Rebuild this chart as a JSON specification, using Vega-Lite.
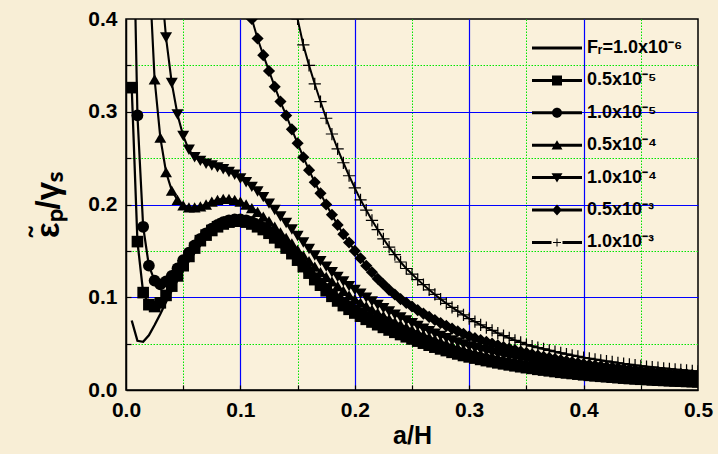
{
  "$schema": "https://vega.github.io/schema/vega-lite/v6.json",
  "width": 572,
  "height": 371,
  "autosize": {"type": "none"},
  "padding": {"left": 126, "top": 19, "right": 20, "bottom": 64},
  "background": "#f8eed6",
  "config": {
    "font": "Liberation Sans",
    "view": {"fill": "#faf1db", "stroke": "#000000", "strokeWidth": 1.5}
  },
  "data": {
    "values": [
      {"s":"a","x":0.005,"y":0.075},{"s":"a","x":0.01,"y":0.053},{"s":"a","x":0.015,"y":0.052},{"s":"a","x":0.02,"y":0.059},{"s":"a","x":0.025,"y":0.07},{"s":"a","x":0.03,"y":0.082},{"s":"a","x":0.035,"y":0.095},{"s":"a","x":0.04,"y":0.107},{"s":"a","x":0.045,"y":0.118},{"s":"a","x":0.05,"y":0.129},
      {"s":"a","x":0.055,"y":0.139},{"s":"a","x":0.06,"y":0.148},{"s":"a","x":0.065,"y":0.156},{"s":"a","x":0.07,"y":0.163},{"s":"a","x":0.075,"y":0.169},{"s":"a","x":0.08,"y":0.174},{"s":"a","x":0.085,"y":0.177},{"s":"a","x":0.09,"y":0.179},{"s":"a","x":0.095,"y":0.18},{"s":"a","x":0.1,"y":0.18},
      {"s":"a","x":0.105,"y":0.179},{"s":"a","x":0.11,"y":0.177},{"s":"a","x":0.115,"y":0.174},{"s":"a","x":0.12,"y":0.171},{"s":"a","x":0.125,"y":0.167},{"s":"a","x":0.13,"y":0.162},{"s":"a","x":0.135,"y":0.157},{"s":"a","x":0.14,"y":0.151},{"s":"a","x":0.145,"y":0.145},{"s":"a","x":0.15,"y":0.138},
      {"s":"a","x":0.155,"y":0.131},{"s":"a","x":0.16,"y":0.124},{"s":"a","x":0.165,"y":0.117},{"s":"a","x":0.17,"y":0.111},{"s":"a","x":0.175,"y":0.105},{"s":"a","x":0.18,"y":0.099},{"s":"a","x":0.185,"y":0.094},{"s":"a","x":0.19,"y":0.089},{"s":"a","x":0.195,"y":0.085},{"s":"a","x":0.2,"y":0.081},
      {"s":"a","x":0.205,"y":0.0776},{"s":"a","x":0.21,"y":0.0743},{"s":"a","x":0.215,"y":0.0714},{"s":"a","x":0.22,"y":0.0686},{"s":"a","x":0.225,"y":0.0658},{"s":"a","x":0.23,"y":0.063},{"s":"a","x":0.235,"y":0.0606},{"s":"a","x":0.24,"y":0.0583},{"s":"a","x":0.245,"y":0.0559},{"s":"a","x":0.25,"y":0.0536},
      {"s":"a","x":0.255,"y":0.0513},{"s":"a","x":0.26,"y":0.0492},{"s":"a","x":0.265,"y":0.0471},{"s":"a","x":0.27,"y":0.045},{"s":"a","x":0.275,"y":0.0431},{"s":"a","x":0.28,"y":0.0414},{"s":"a","x":0.285,"y":0.0396},{"s":"a","x":0.29,"y":0.0379},{"s":"a","x":0.295,"y":0.0363},{"s":"a","x":0.3,"y":0.0348},
      {"s":"a","x":0.305,"y":0.0335},{"s":"a","x":0.31,"y":0.0321},{"s":"a","x":0.315,"y":0.0309},{"s":"a","x":0.32,"y":0.0297},{"s":"a","x":0.325,"y":0.0286},{"s":"a","x":0.33,"y":0.0274},{"s":"a","x":0.335,"y":0.0264},{"s":"a","x":0.34,"y":0.0254},{"s":"a","x":0.345,"y":0.0244},{"s":"a","x":0.35,"y":0.0235},
      {"s":"a","x":0.355,"y":0.0227},{"s":"a","x":0.36,"y":0.0217},{"s":"a","x":0.365,"y":0.021},{"s":"a","x":0.37,"y":0.0201},{"s":"a","x":0.375,"y":0.0194},{"s":"a","x":0.38,"y":0.0186},{"s":"a","x":0.385,"y":0.018},{"s":"a","x":0.39,"y":0.0173},{"s":"a","x":0.395,"y":0.0166},{"s":"a","x":0.4,"y":0.016},
      {"s":"a","x":0.405,"y":0.0154},{"s":"a","x":0.41,"y":0.0149},{"s":"a","x":0.415,"y":0.0144},{"s":"a","x":0.42,"y":0.0139},{"s":"a","x":0.425,"y":0.0134},{"s":"a","x":0.43,"y":0.013},{"s":"a","x":0.435,"y":0.0125},{"s":"a","x":0.44,"y":0.0121},{"s":"a","x":0.445,"y":0.0117},{"s":"a","x":0.45,"y":0.0113},
      {"s":"a","x":0.455,"y":0.011},{"s":"a","x":0.46,"y":0.0106},{"s":"a","x":0.465,"y":0.0103},{"s":"a","x":0.47,"y":0.0101},{"s":"a","x":0.475,"y":0.0098},{"s":"a","x":0.48,"y":0.0095},{"s":"a","x":0.485,"y":0.0092},{"s":"a","x":0.49,"y":0.0089},{"s":"a","x":0.495,"y":0.0087},{"s":"a","x":0.5,"y":0.0085},

      {"s":"b","x":0.005,"y":0.326},{"s":"b","x":0.01,"y":0.16},{"s":"b","x":0.015,"y":0.105},{"s":"b","x":0.02,"y":0.092},{"s":"b","x":0.025,"y":0.09},{"s":"b","x":0.03,"y":0.094},{"s":"b","x":0.035,"y":0.102},{"s":"b","x":0.04,"y":0.112},{"s":"b","x":0.045,"y":0.123},{"s":"b","x":0.05,"y":0.134},
      {"s":"b","x":0.055,"y":0.144},{"s":"b","x":0.06,"y":0.153},{"s":"b","x":0.065,"y":0.161},{"s":"b","x":0.07,"y":0.167},{"s":"b","x":0.075,"y":0.172},{"s":"b","x":0.08,"y":0.176},{"s":"b","x":0.085,"y":0.179},{"s":"b","x":0.09,"y":0.181},{"s":"b","x":0.095,"y":0.182},{"s":"b","x":0.1,"y":0.182},
      {"s":"b","x":0.105,"y":0.181},{"s":"b","x":0.11,"y":0.179},{"s":"b","x":0.115,"y":0.176},{"s":"b","x":0.12,"y":0.173},{"s":"b","x":0.125,"y":0.169},{"s":"b","x":0.13,"y":0.164},{"s":"b","x":0.135,"y":0.159},{"s":"b","x":0.14,"y":0.153},{"s":"b","x":0.145,"y":0.147},{"s":"b","x":0.15,"y":0.14},
      {"s":"b","x":0.155,"y":0.133},{"s":"b","x":0.16,"y":0.126},{"s":"b","x":0.165,"y":0.119},{"s":"b","x":0.17,"y":0.113},{"s":"b","x":0.175,"y":0.107},{"s":"b","x":0.18,"y":0.101},{"s":"b","x":0.185,"y":0.096},{"s":"b","x":0.19,"y":0.091},{"s":"b","x":0.195,"y":0.087},{"s":"b","x":0.2,"y":0.083},
      {"s":"b","x":0.205,"y":0.0796},{"s":"b","x":0.21,"y":0.0762},{"s":"b","x":0.215,"y":0.0733},{"s":"b","x":0.22,"y":0.0704},{"s":"b","x":0.225,"y":0.0675},{"s":"b","x":0.23,"y":0.0647},{"s":"b","x":0.235,"y":0.0622},{"s":"b","x":0.24,"y":0.0598},{"s":"b","x":0.245,"y":0.0574},{"s":"b","x":0.25,"y":0.055},
      {"s":"b","x":0.255,"y":0.0527},{"s":"b","x":0.26,"y":0.0505},{"s":"b","x":0.265,"y":0.0483},{"s":"b","x":0.27,"y":0.0462},{"s":"b","x":0.275,"y":0.0443},{"s":"b","x":0.28,"y":0.0425},{"s":"b","x":0.285,"y":0.0406},{"s":"b","x":0.29,"y":0.0389},{"s":"b","x":0.295,"y":0.0372},{"s":"b","x":0.3,"y":0.0357},
      {"s":"b","x":0.305,"y":0.0344},{"s":"b","x":0.31,"y":0.033},{"s":"b","x":0.315,"y":0.0317},{"s":"b","x":0.32,"y":0.0305},{"s":"b","x":0.325,"y":0.0293},{"s":"b","x":0.33,"y":0.0282},{"s":"b","x":0.335,"y":0.0271},{"s":"b","x":0.34,"y":0.0261},{"s":"b","x":0.345,"y":0.0251},{"s":"b","x":0.35,"y":0.0241},
      {"s":"b","x":0.355,"y":0.0233},{"s":"b","x":0.36,"y":0.0223},{"s":"b","x":0.365,"y":0.0215},{"s":"b","x":0.37,"y":0.0207},{"s":"b","x":0.375,"y":0.0199},{"s":"b","x":0.38,"y":0.0191},{"s":"b","x":0.385,"y":0.0184},{"s":"b","x":0.39,"y":0.0178},{"s":"b","x":0.395,"y":0.0171},{"s":"b","x":0.4,"y":0.0164},
      {"s":"b","x":0.405,"y":0.0158},{"s":"b","x":0.41,"y":0.0153},{"s":"b","x":0.415,"y":0.0148},{"s":"b","x":0.42,"y":0.0143},{"s":"b","x":0.425,"y":0.0138},{"s":"b","x":0.43,"y":0.0133},{"s":"b","x":0.435,"y":0.0128},{"s":"b","x":0.44,"y":0.0124},{"s":"b","x":0.445,"y":0.012},{"s":"b","x":0.45,"y":0.0116},
      {"s":"b","x":0.455,"y":0.0113},{"s":"b","x":0.46,"y":0.0109},{"s":"b","x":0.465,"y":0.0106},{"s":"b","x":0.47,"y":0.0103},{"s":"b","x":0.475,"y":0.01},{"s":"b","x":0.48,"y":0.0097},{"s":"b","x":0.485,"y":0.0095},{"s":"b","x":0.49,"y":0.0092},{"s":"b","x":0.495,"y":0.009},{"s":"b","x":0.5,"y":0.0087},

      {"s":"c","x":0.005,"y":0.6},{"s":"c","x":0.01,"y":0.296},{"s":"c","x":0.015,"y":0.176},{"s":"c","x":0.02,"y":0.134},{"s":"c","x":0.025,"y":0.118},{"s":"c","x":0.03,"y":0.114},{"s":"c","x":0.035,"y":0.117},{"s":"c","x":0.04,"y":0.123},{"s":"c","x":0.045,"y":0.131},{"s":"c","x":0.05,"y":0.14},
      {"s":"c","x":0.055,"y":0.148},{"s":"c","x":0.06,"y":0.156},{"s":"c","x":0.065,"y":0.163},{"s":"c","x":0.07,"y":0.169},{"s":"c","x":0.075,"y":0.174},{"s":"c","x":0.08,"y":0.178},{"s":"c","x":0.085,"y":0.181},{"s":"c","x":0.09,"y":0.183},{"s":"c","x":0.095,"y":0.184},{"s":"c","x":0.1,"y":0.184},
      {"s":"c","x":0.105,"y":0.183},{"s":"c","x":0.11,"y":0.181},{"s":"c","x":0.115,"y":0.178},{"s":"c","x":0.12,"y":0.175},{"s":"c","x":0.125,"y":0.171},{"s":"c","x":0.13,"y":0.166},{"s":"c","x":0.135,"y":0.161},{"s":"c","x":0.14,"y":0.155},{"s":"c","x":0.145,"y":0.149},{"s":"c","x":0.15,"y":0.142},
      {"s":"c","x":0.155,"y":0.135},{"s":"c","x":0.16,"y":0.128},{"s":"c","x":0.165,"y":0.121},{"s":"c","x":0.17,"y":0.115},{"s":"c","x":0.175,"y":0.109},{"s":"c","x":0.18,"y":0.103},{"s":"c","x":0.185,"y":0.098},{"s":"c","x":0.19,"y":0.094},{"s":"c","x":0.195,"y":0.09},{"s":"c","x":0.2,"y":0.086},
      {"s":"c","x":0.205,"y":0.0825},{"s":"c","x":0.21,"y":0.079},{"s":"c","x":0.215,"y":0.076},{"s":"c","x":0.22,"y":0.073},{"s":"c","x":0.225,"y":0.07},{"s":"c","x":0.23,"y":0.067},{"s":"c","x":0.235,"y":0.0645},{"s":"c","x":0.24,"y":0.062},{"s":"c","x":0.245,"y":0.0595},{"s":"c","x":0.25,"y":0.057},
      {"s":"c","x":0.255,"y":0.0546},{"s":"c","x":0.26,"y":0.0523},{"s":"c","x":0.265,"y":0.0501},{"s":"c","x":0.27,"y":0.0479},{"s":"c","x":0.275,"y":0.0459},{"s":"c","x":0.28,"y":0.044},{"s":"c","x":0.285,"y":0.0421},{"s":"c","x":0.29,"y":0.0403},{"s":"c","x":0.295,"y":0.0386},{"s":"c","x":0.3,"y":0.037},
      {"s":"c","x":0.305,"y":0.0356},{"s":"c","x":0.31,"y":0.0342},{"s":"c","x":0.315,"y":0.0329},{"s":"c","x":0.32,"y":0.0316},{"s":"c","x":0.325,"y":0.0304},{"s":"c","x":0.33,"y":0.0292},{"s":"c","x":0.335,"y":0.0281},{"s":"c","x":0.34,"y":0.027},{"s":"c","x":0.345,"y":0.026},{"s":"c","x":0.35,"y":0.025},
      {"s":"c","x":0.355,"y":0.0241},{"s":"c","x":0.36,"y":0.0231},{"s":"c","x":0.365,"y":0.0223},{"s":"c","x":0.37,"y":0.0214},{"s":"c","x":0.375,"y":0.0206},{"s":"c","x":0.38,"y":0.0198},{"s":"c","x":0.385,"y":0.0191},{"s":"c","x":0.39,"y":0.0184},{"s":"c","x":0.395,"y":0.0177},{"s":"c","x":0.4,"y":0.017},
      {"s":"c","x":0.405,"y":0.0164},{"s":"c","x":0.41,"y":0.0159},{"s":"c","x":0.415,"y":0.0153},{"s":"c","x":0.42,"y":0.0148},{"s":"c","x":0.425,"y":0.0143},{"s":"c","x":0.43,"y":0.0138},{"s":"c","x":0.435,"y":0.0133},{"s":"c","x":0.44,"y":0.0129},{"s":"c","x":0.445,"y":0.0124},{"s":"c","x":0.45,"y":0.012},
      {"s":"c","x":0.455,"y":0.0117},{"s":"c","x":0.46,"y":0.0113},{"s":"c","x":0.465,"y":0.011},{"s":"c","x":0.47,"y":0.0107},{"s":"c","x":0.475,"y":0.0104},{"s":"c","x":0.48,"y":0.0101},{"s":"c","x":0.485,"y":0.0098},{"s":"c","x":0.49,"y":0.0095},{"s":"c","x":0.495,"y":0.0093},{"s":"c","x":0.5,"y":0.009},

      {"s":"d","x":0.02,"y":0.46},{"s":"d","x":0.025,"y":0.335},{"s":"d","x":0.03,"y":0.272},{"s":"d","x":0.035,"y":0.235},{"s":"d","x":0.04,"y":0.215},{"s":"d","x":0.045,"y":0.205},{"s":"d","x":0.05,"y":0.199},
      {"s":"d","x":0.055,"y":0.197},{"s":"d","x":0.06,"y":0.197},{"s":"d","x":0.065,"y":0.198},{"s":"d","x":0.07,"y":0.2},{"s":"d","x":0.075,"y":0.203},{"s":"d","x":0.08,"y":0.205},{"s":"d","x":0.085,"y":0.206},{"s":"d","x":0.09,"y":0.206},{"s":"d","x":0.095,"y":0.205},{"s":"d","x":0.1,"y":0.203},
      {"s":"d","x":0.105,"y":0.2},{"s":"d","x":0.11,"y":0.196},{"s":"d","x":0.115,"y":0.192},{"s":"d","x":0.12,"y":0.187},{"s":"d","x":0.125,"y":0.182},{"s":"d","x":0.13,"y":0.176},{"s":"d","x":0.135,"y":0.17},{"s":"d","x":0.14,"y":0.164},{"s":"d","x":0.145,"y":0.158},{"s":"d","x":0.15,"y":0.151},
      {"s":"d","x":0.155,"y":0.145},{"s":"d","x":0.16,"y":0.139},{"s":"d","x":0.165,"y":0.133},{"s":"d","x":0.17,"y":0.127},{"s":"d","x":0.175,"y":0.122},{"s":"d","x":0.18,"y":0.117},{"s":"d","x":0.185,"y":0.112},{"s":"d","x":0.19,"y":0.107},{"s":"d","x":0.195,"y":0.102},{"s":"d","x":0.2,"y":0.098},
      {"s":"d","x":0.205,"y":0.0941},{"s":"d","x":0.21,"y":0.0903},{"s":"d","x":0.215,"y":0.0866},{"s":"d","x":0.22,"y":0.0831},{"s":"d","x":0.225,"y":0.0798},{"s":"d","x":0.23,"y":0.0766},{"s":"d","x":0.235,"y":0.0735},{"s":"d","x":0.24,"y":0.0705},{"s":"d","x":0.245,"y":0.0677},{"s":"d","x":0.25,"y":0.065},
      {"s":"d","x":0.255,"y":0.0622},{"s":"d","x":0.26,"y":0.0596},{"s":"d","x":0.265,"y":0.057},{"s":"d","x":0.27,"y":0.0546},{"s":"d","x":0.275,"y":0.0522},{"s":"d","x":0.28,"y":0.05},{"s":"d","x":0.285,"y":0.0479},{"s":"d","x":0.29,"y":0.0458},{"s":"d","x":0.295,"y":0.0439},{"s":"d","x":0.3,"y":0.042},
      {"s":"d","x":0.305,"y":0.0403},{"s":"d","x":0.31,"y":0.0387},{"s":"d","x":0.315,"y":0.0372},{"s":"d","x":0.32,"y":0.0357},{"s":"d","x":0.325,"y":0.0343},{"s":"d","x":0.33,"y":0.0329},{"s":"d","x":0.335,"y":0.0316},{"s":"d","x":0.34,"y":0.0304},{"s":"d","x":0.345,"y":0.0292},{"s":"d","x":0.35,"y":0.028},
      {"s":"d","x":0.355,"y":0.0269},{"s":"d","x":0.36,"y":0.0259},{"s":"d","x":0.365,"y":0.0249},{"s":"d","x":0.37,"y":0.024},{"s":"d","x":0.375,"y":0.0231},{"s":"d","x":0.38,"y":0.0222},{"s":"d","x":0.385,"y":0.0213},{"s":"d","x":0.39,"y":0.0205},{"s":"d","x":0.395,"y":0.0197},{"s":"d","x":0.4,"y":0.019},
      {"s":"d","x":0.405,"y":0.0184},{"s":"d","x":0.41,"y":0.0179},{"s":"d","x":0.415,"y":0.0173},{"s":"d","x":0.42,"y":0.0168},{"s":"d","x":0.425,"y":0.0163},{"s":"d","x":0.43,"y":0.0158},{"s":"d","x":0.435,"y":0.0154},{"s":"d","x":0.44,"y":0.0149},{"s":"d","x":0.445,"y":0.0145},{"s":"d","x":0.45,"y":0.014},
      {"s":"d","x":0.455,"y":0.0137},{"s":"d","x":0.46,"y":0.0133},{"s":"d","x":0.465,"y":0.013},{"s":"d","x":0.47,"y":0.0127},{"s":"d","x":0.475,"y":0.0124},{"s":"d","x":0.48,"y":0.0121},{"s":"d","x":0.485,"y":0.0118},{"s":"d","x":0.49,"y":0.0115},{"s":"d","x":0.495,"y":0.0113},{"s":"d","x":0.5,"y":0.011},

      {"s":"e","x":0.03,"y":0.45},{"s":"e","x":0.035,"y":0.38},{"s":"e","x":0.04,"y":0.331},{"s":"e","x":0.045,"y":0.297},{"s":"e","x":0.05,"y":0.274},
      {"s":"e","x":0.055,"y":0.259},{"s":"e","x":0.06,"y":0.251},{"s":"e","x":0.065,"y":0.247},{"s":"e","x":0.07,"y":0.244},{"s":"e","x":0.075,"y":0.242},{"s":"e","x":0.08,"y":0.24},{"s":"e","x":0.085,"y":0.238},{"s":"e","x":0.09,"y":0.235},{"s":"e","x":0.095,"y":0.232},{"s":"e","x":0.1,"y":0.228},
      {"s":"e","x":0.105,"y":0.224},{"s":"e","x":0.11,"y":0.219},{"s":"e","x":0.115,"y":0.214},{"s":"e","x":0.12,"y":0.208},{"s":"e","x":0.125,"y":0.201},{"s":"e","x":0.13,"y":0.194},{"s":"e","x":0.135,"y":0.187},{"s":"e","x":0.14,"y":0.18},{"s":"e","x":0.145,"y":0.173},{"s":"e","x":0.15,"y":0.166},
      {"s":"e","x":0.155,"y":0.159},{"s":"e","x":0.16,"y":0.152},{"s":"e","x":0.165,"y":0.145},{"s":"e","x":0.17,"y":0.139},{"s":"e","x":0.175,"y":0.133},{"s":"e","x":0.18,"y":0.127},{"s":"e","x":0.185,"y":0.122},{"s":"e","x":0.19,"y":0.117},{"s":"e","x":0.195,"y":0.112},{"s":"e","x":0.2,"y":0.108},
      {"s":"e","x":0.205,"y":0.1037},{"s":"e","x":0.21,"y":0.0996},{"s":"e","x":0.215,"y":0.0956},{"s":"e","x":0.22,"y":0.0918},{"s":"e","x":0.225,"y":0.0882},{"s":"e","x":0.23,"y":0.0847},{"s":"e","x":0.235,"y":0.0813},{"s":"e","x":0.24,"y":0.0781},{"s":"e","x":0.245,"y":0.075},{"s":"e","x":0.25,"y":0.072},
      {"s":"e","x":0.255,"y":0.069},{"s":"e","x":0.26,"y":0.0661},{"s":"e","x":0.265,"y":0.0634},{"s":"e","x":0.27,"y":0.0607},{"s":"e","x":0.275,"y":0.0582},{"s":"e","x":0.28,"y":0.0558},{"s":"e","x":0.285,"y":0.0534},{"s":"e","x":0.29,"y":0.0512},{"s":"e","x":0.295,"y":0.0491},{"s":"e","x":0.3,"y":0.047},
      {"s":"e","x":0.305,"y":0.0452},{"s":"e","x":0.31,"y":0.0435},{"s":"e","x":0.315,"y":0.0419},{"s":"e","x":0.32,"y":0.0403},{"s":"e","x":0.325,"y":0.0388},{"s":"e","x":0.33,"y":0.0373},{"s":"e","x":0.335,"y":0.0359},{"s":"e","x":0.34,"y":0.0346},{"s":"e","x":0.345,"y":0.0333},{"s":"e","x":0.35,"y":0.032},
      {"s":"e","x":0.355,"y":0.0308},{"s":"e","x":0.36,"y":0.0297},{"s":"e","x":0.365,"y":0.0286},{"s":"e","x":0.37,"y":0.0275},{"s":"e","x":0.375,"y":0.0265},{"s":"e","x":0.38,"y":0.0255},{"s":"e","x":0.385,"y":0.0246},{"s":"e","x":0.39,"y":0.0237},{"s":"e","x":0.395,"y":0.0228},{"s":"e","x":0.4,"y":0.022},
      {"s":"e","x":0.405,"y":0.0213},{"s":"e","x":0.41,"y":0.0206},{"s":"e","x":0.415,"y":0.02},{"s":"e","x":0.42,"y":0.0194},{"s":"e","x":0.425,"y":0.0188},{"s":"e","x":0.43,"y":0.0182},{"s":"e","x":0.435,"y":0.0176},{"s":"e","x":0.44,"y":0.0171},{"s":"e","x":0.445,"y":0.0165},{"s":"e","x":0.45,"y":0.016},
      {"s":"e","x":0.455,"y":0.0155},{"s":"e","x":0.46,"y":0.0151},{"s":"e","x":0.465,"y":0.0147},{"s":"e","x":0.47,"y":0.0143},{"s":"e","x":0.475,"y":0.0139},{"s":"e","x":0.48,"y":0.0135},{"s":"e","x":0.485,"y":0.0131},{"s":"e","x":0.49,"y":0.0127},{"s":"e","x":0.495,"y":0.0124},{"s":"e","x":0.5,"y":0.012},

      {"s":"f","x":0.105,"y":0.42},{"s":"f","x":0.11,"y":0.4},{"s":"f","x":0.115,"y":0.379},{"s":"f","x":0.12,"y":0.361},{"s":"f","x":0.125,"y":0.344},{"s":"f","x":0.13,"y":0.327},{"s":"f","x":0.135,"y":0.311},{"s":"f","x":0.14,"y":0.296},{"s":"f","x":0.145,"y":0.281},{"s":"f","x":0.15,"y":0.266},
      {"s":"f","x":0.155,"y":0.251},{"s":"f","x":0.16,"y":0.237},{"s":"f","x":0.165,"y":0.224},{"s":"f","x":0.17,"y":0.212},{"s":"f","x":0.175,"y":0.2},{"s":"f","x":0.18,"y":0.189},{"s":"f","x":0.185,"y":0.178},{"s":"f","x":0.19,"y":0.168},{"s":"f","x":0.195,"y":0.159},{"s":"f","x":0.2,"y":0.15},
      {"s":"f","x":0.205,"y":0.142},{"s":"f","x":0.21,"y":0.134},{"s":"f","x":0.215,"y":0.127},{"s":"f","x":0.22,"y":0.12},{"s":"f","x":0.225,"y":0.114},{"s":"f","x":0.23,"y":0.108},{"s":"f","x":0.235,"y":0.103},{"s":"f","x":0.24,"y":0.098},{"s":"f","x":0.245,"y":0.094},{"s":"f","x":0.25,"y":0.09},
      {"s":"f","x":0.255,"y":0.0861},{"s":"f","x":0.26,"y":0.0824},{"s":"f","x":0.265,"y":0.0789},{"s":"f","x":0.27,"y":0.0755},{"s":"f","x":0.275,"y":0.0723},{"s":"f","x":0.28,"y":0.0692},{"s":"f","x":0.285,"y":0.0662},{"s":"f","x":0.29,"y":0.0634},{"s":"f","x":0.295,"y":0.0606},{"s":"f","x":0.3,"y":0.058},
      {"s":"f","x":0.305,"y":0.0559},{"s":"f","x":0.31,"y":0.0539},{"s":"f","x":0.315,"y":0.0519},{"s":"f","x":0.32,"y":0.05},{"s":"f","x":0.325,"y":0.0482},{"s":"f","x":0.33,"y":0.0464},{"s":"f","x":0.335,"y":0.0447},{"s":"f","x":0.34,"y":0.0431},{"s":"f","x":0.345,"y":0.0415},{"s":"f","x":0.35,"y":0.04},
      {"s":"f","x":0.355,"y":0.0386},{"s":"f","x":0.36,"y":0.0372},{"s":"f","x":0.365,"y":0.0359},{"s":"f","x":0.37,"y":0.0347},{"s":"f","x":0.375,"y":0.0335},{"s":"f","x":0.38,"y":0.0323},{"s":"f","x":0.385,"y":0.0312},{"s":"f","x":0.39,"y":0.0301},{"s":"f","x":0.395,"y":0.029},{"s":"f","x":0.4,"y":0.028},
      {"s":"f","x":0.405,"y":0.0272},{"s":"f","x":0.41,"y":0.0264},{"s":"f","x":0.415,"y":0.0257},{"s":"f","x":0.42,"y":0.0249},{"s":"f","x":0.425,"y":0.0242},{"s":"f","x":0.43,"y":0.0236},{"s":"f","x":0.435,"y":0.0229},{"s":"f","x":0.44,"y":0.0223},{"s":"f","x":0.445,"y":0.0216},{"s":"f","x":0.45,"y":0.021},
      {"s":"f","x":0.455,"y":0.0204},{"s":"f","x":0.46,"y":0.0199},{"s":"f","x":0.465,"y":0.0194},{"s":"f","x":0.47,"y":0.0188},{"s":"f","x":0.475,"y":0.0183},{"s":"f","x":0.48,"y":0.0178},{"s":"f","x":0.485,"y":0.0174},{"s":"f","x":0.49,"y":0.0169},{"s":"f","x":0.495,"y":0.0164},{"s":"f","x":0.5,"y":0.016},

      {"s":"g","x":0.145,"y":0.432},{"s":"g","x":0.15,"y":0.4},
      {"s":"g","x":0.155,"y":0.372},{"s":"g","x":0.16,"y":0.35},{"s":"g","x":0.165,"y":0.33},{"s":"g","x":0.17,"y":0.311},{"s":"g","x":0.175,"y":0.293},{"s":"g","x":0.18,"y":0.276},{"s":"g","x":0.185,"y":0.26},{"s":"g","x":0.19,"y":0.245},{"s":"g","x":0.195,"y":0.231},{"s":"g","x":0.2,"y":0.218},
      {"s":"g","x":0.205,"y":0.205},{"s":"g","x":0.21,"y":0.194},{"s":"g","x":0.215,"y":0.183},{"s":"g","x":0.22,"y":0.173},{"s":"g","x":0.225,"y":0.163},{"s":"g","x":0.23,"y":0.154},{"s":"g","x":0.235,"y":0.146},{"s":"g","x":0.24,"y":0.138},{"s":"g","x":0.245,"y":0.131},{"s":"g","x":0.25,"y":0.125},
      {"s":"g","x":0.255,"y":0.119},{"s":"g","x":0.26,"y":0.1135},{"s":"g","x":0.265,"y":0.108},{"s":"g","x":0.27,"y":0.103},{"s":"g","x":0.275,"y":0.098},{"s":"g","x":0.28,"y":0.0935},{"s":"g","x":0.285,"y":0.089},{"s":"g","x":0.29,"y":0.085},{"s":"g","x":0.295,"y":0.081},{"s":"g","x":0.3,"y":0.077},
      {"s":"g","x":0.305,"y":0.0736},{"s":"g","x":0.31,"y":0.0703},{"s":"g","x":0.315,"y":0.0672},{"s":"g","x":0.32,"y":0.0643},{"s":"g","x":0.325,"y":0.0614},{"s":"g","x":0.33,"y":0.0587},{"s":"g","x":0.335,"y":0.0561},{"s":"g","x":0.34,"y":0.0536},{"s":"g","x":0.345,"y":0.0513},{"s":"g","x":0.35,"y":0.049},
      {"s":"g","x":0.355,"y":0.0474},{"s":"g","x":0.36,"y":0.0458},{"s":"g","x":0.365,"y":0.0443},{"s":"g","x":0.37,"y":0.0428},{"s":"g","x":0.375,"y":0.0414},{"s":"g","x":0.38,"y":0.04},{"s":"g","x":0.385,"y":0.0387},{"s":"g","x":0.39,"y":0.0374},{"s":"g","x":0.395,"y":0.0362},{"s":"g","x":0.4,"y":0.035},
      {"s":"g","x":0.405,"y":0.034},{"s":"g","x":0.41,"y":0.033},{"s":"g","x":0.415,"y":0.032},{"s":"g","x":0.42,"y":0.0311},{"s":"g","x":0.425,"y":0.0302},{"s":"g","x":0.43,"y":0.0293},{"s":"g","x":0.435,"y":0.0284},{"s":"g","x":0.44,"y":0.0276},{"s":"g","x":0.445,"y":0.0268},{"s":"g","x":0.45,"y":0.026},
      {"s":"g","x":0.455,"y":0.0253},{"s":"g","x":0.46,"y":0.0247},{"s":"g","x":0.465,"y":0.024},{"s":"g","x":0.47,"y":0.0234},{"s":"g","x":0.475,"y":0.0228},{"s":"g","x":0.48,"y":0.0222},{"s":"g","x":0.485,"y":0.0216},{"s":"g","x":0.49,"y":0.0211},{"s":"g","x":0.495,"y":0.0205},{"s":"g","x":0.5,"y":0.02}
    ]
  },
  "resolve": {
    "scale": {"shape": "independent", "size": "independent", "strokeWidth": "independent"},
    "axis": {"x": "independent", "y": "independent"}
  },
  "layer": [
    {
      "mark": {"type": "line", "clip": true, "color": "#000000", "opacity": 1},
      "encoding": {
        "x": {
          "field": "x", "type": "quantitative",
          "scale": {"domain": [0, 0.5], "nice": false, "zero": false},
          "axis": {
            "orient": "bottom",
            "values": [0.05, 0.15, 0.25, 0.35, 0.45],
            "title": null, "labels": false, "domain": false,
            "grid": true, "gridColor": "#00e600", "gridDash": [1.5, 1.5], "gridWidth": 1,
            "ticks": true, "tickColor": "#000000", "tickWidth": 1.2, "tickSize": -5
          }
        },
        "y": {
          "field": "y", "type": "quantitative",
          "scale": {"domain": [0, 0.4], "nice": false, "zero": false},
          "axis": {
            "orient": "left",
            "values": [0.05, 0.15, 0.25, 0.35],
            "title": null, "labels": false, "domain": false,
            "grid": true, "gridColor": "#00e600", "gridDash": [1.5, 1.5], "gridWidth": 1,
            "ticks": true, "tickColor": "#000000", "tickWidth": 1.2, "tickSize": -5
          }
        },
        "detail": {"field": "s", "type": "nominal"},
        "strokeWidth": {
          "field": "s", "type": "nominal",
          "scale": {"domain": ["a", "b", "c", "d", "e", "f", "g"], "range": [2.3, 2, 2, 2, 2, 2.4, 1.6]},
          "legend": null
        }
      }
    },
    {
      "transform": [{"filter": "datum.s != 'a'"}],
      "mark": {"type": "point", "filled": true, "clip": true, "color": "#000000", "opacity": 1, "strokeWidth": 0},
      "encoding": {
        "x": {
          "field": "x", "type": "quantitative",
          "axis": {
            "orient": "bottom",
            "values": [0.1, 0.2, 0.3, 0.4],
            "title": null, "labels": false, "domain": false, "ticks": true,
            "tickColor": "#000000", "tickWidth": 1.2, "tickSize": -5,
            "grid": true, "gridColor": "#0000ff", "gridWidth": 1.2
          }
        },
        "y": {
          "field": "y", "type": "quantitative",
          "axis": {
            "orient": "left",
            "values": [0.1, 0.2, 0.3],
            "title": null, "labels": false, "domain": false, "ticks": true,
            "tickColor": "#000000", "tickWidth": 1.2, "tickSize": -5,
            "grid": true, "gridColor": "#0000ff", "gridWidth": 1.2
          }
        },
        "shape": {
          "field": "s", "type": "nominal",
          "scale": {
            "domain": ["b", "c", "d", "e", "f", "g"],
            "range": ["square", "circle", "triangle-up", "triangle-down", "diamond", "M-1,-0.1H1V0.1H-1Z M-0.1,-1H0.1V1H-0.1Z"]
          },
          "legend": null
        },
        "size": {
          "field": "s", "type": "nominal",
          "scale": {"domain": ["b", "c", "d", "e", "f", "g"], "range": [135, 150, 200, 200, 150, 130]},
          "legend": null
        }
      }
    },
    {
      "transform": [{"filter": "datum.x > 1"}],
      "mark": {"type": "point", "filled": true, "color": "#000000", "opacity": 1},
      "encoding": {
        "x": {
          "field": "x", "type": "quantitative",
          "axis": {
            "orient": "bottom",
            "values": [0, 0.1, 0.2, 0.3, 0.4, 0.5],
            "format": ".1f",
            "title": "a/H",
            "grid": false,
            "domain": true, "domainColor": "#000000", "domainWidth": 1.5,
            "ticks": false,
            "labelPadding": 9,
            "labelFont": "Liberation Sans", "labelFontSize": 21, "labelFontWeight": "bold", "labelColor": "#000000",
            "labelFlush": false,
            "titleFont": "Liberation Sans", "titleFontSize": 25, "titleFontWeight": "bold", "titleColor": "#000000",
            "titlePadding": 3
          }
        },
        "y": {
          "field": "y", "type": "quantitative",
          "axis": {
            "orient": "left",
            "values": [0, 0.1, 0.2, 0.3, 0.4],
            "format": ".1f",
            "title": "ε̃ₚ/γₛ",
            "grid": false,
            "domain": true, "domainColor": "#000000", "domainWidth": 1.5,
            "ticks": false,
            "labelPadding": 9,
            "labelFont": "Liberation Sans", "labelFontSize": 21, "labelFontWeight": "bold", "labelColor": "#000000",
            "labelFlush": false,
            "titleFont": "Liberation Sans", "titleFontSize": 33, "titleFontWeight": "bold", "titleColor": "#000000",
            "titlePadding": 22
          }
        },
        "shape": {
          "field": "s", "type": "nominal",
          "scale": {
            "domain": ["a", "b", "c", "d", "e", "f", "g"],
            "range": [
              "M-1,-0.06H1V0.06H-1Z",
              "M-1,-0.06H1V0.06H-1Z M-0.2,-0.2H0.2V0.2H-0.2Z",
              "M-1,-0.06H1V0.06H-1Z M-0.2,0A0.2,0.2 0 1,1 0.2,0A0.2,0.2 0 1,1 -0.2,0Z",
              "M-1,-0.06H1V0.06H-1Z M0,-0.2L0.22,0.17L-0.22,0.17Z",
              "M-1,-0.06H1V0.06H-1Z M0,0.2L-0.22,-0.17L0.22,-0.17Z",
              "M-1,-0.06H1V0.06H-1Z M0,-0.22L0.2,0L0,0.22L-0.2,0Z",
              "M-1,-0.06H-0.22V0.06H-1Z M0.22,-0.06H1V0.06H0.22Z M-0.16,-0.02H0.16V0.02H-0.16Z M-0.02,-0.16H0.02V0.16H-0.02Z"
            ]
          },
          "legend": {
            "title": null,
            "orient": "none",
            "legendX": 406,
            "legendY": 13,
            "padding": 0,
            "symbolSize": 2500,
            "symbolStrokeWidth": 0,
            "symbolFillColor": "#000000",
            "symbolOpacity": 1,
            "clipHeight": 32,
            "rowPadding": 0.4,
            "labelOffset": 5,
            "labelFont": "Liberation Sans",
            "labelFontSize": 18,
            "labelFontWeight": "bold",
            "labelColor": "#000000",
            "labelLimit": 200,
            "labelExpr": "datum.value == 'a' ? 'Fᵣ=1.0x10⁻⁶' : datum.value == 'b' ? ' 0.5x10⁻⁵' : datum.value == 'c' ? ' 1.0x10⁻⁵' : datum.value == 'd' ? ' 0.5x10⁻⁴' : datum.value == 'e' ? ' 1.0x10⁻⁴' : datum.value == 'f' ? ' 0.5x10⁻³' : ' 1.0x10⁻³'"
          }
        }
      }
    }
  ]
}
